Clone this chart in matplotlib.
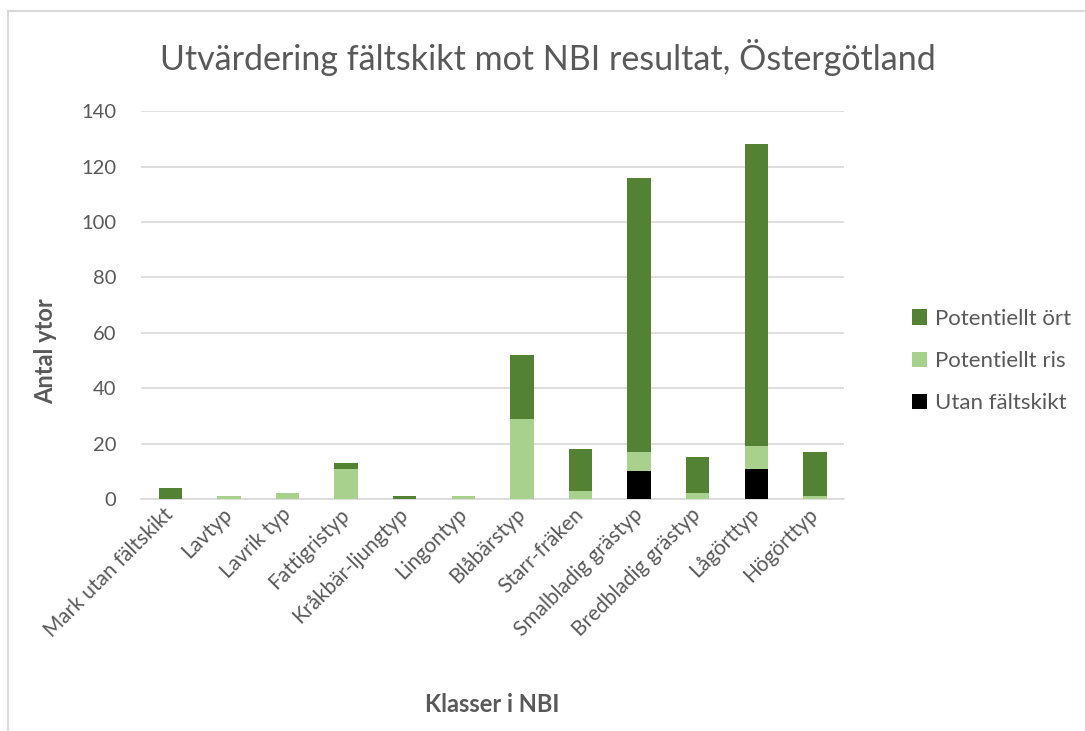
import numpy as np
import matplotlib.pyplot as plt
from matplotlib.patches import Rectangle

# Data
classes = ['Mark utan fältskikt', 'Lavtyp', 'Lavrik typ', 'Fattigristyp',
           'Kråkbär-ljungtyp', 'Lingontyp', 'Blåbärstyp', 'Starr-fräken',
           'Smalbladig grästyp', 'Bredbladig grästyp', 'Lågörttyp', 'Högörttyp']
utan_faltskikt = [0, 0, 0, 0, 0, 0, 0, 0, 10, 0, 11, 0]
potentiellt_ris = [0, 1, 2, 11, 0, 1, 29, 3, 7, 2, 8, 1]
potentiellt_ort = [4, 0, 0, 2, 1, 0, 23, 15, 99, 13, 109, 16]

plt.rcParams['font.family'] = ['Lato', 'DejaVu Sans']
text_col = '#595959'

fig = plt.figure(figsize=(10.85, 7.31), dpi=100)
ax = fig.add_axes([0.130, 0.3174, 0.648, 0.5306])

x = np.arange(len(classes))
w = 0.4
utan = np.array(utan_faltskikt)
ris = np.array(potentiellt_ris)
ort = np.array(potentiellt_ort)

b1 = ax.bar(x, utan, w, color='#000000', label='Utan fältskikt', zorder=3)
b2 = ax.bar(x, ris, w, bottom=utan, color='#A9D18E', label='Potentiellt ris', zorder=3)
b3 = ax.bar(x, ort, w, bottom=utan + ris, color='#548235', label='Potentiellt ört', zorder=3)

ax.set_xlim(-0.5, len(classes) - 0.5)
ax.set_ylim(0, 140)
ax.set_yticks(range(0, 141, 20))
ax.grid(axis='y', color='#D9D9D9', linewidth=1.2, zorder=0)
for s in ['top', 'right', 'left']:
    ax.spines[s].set_visible(False)
ax.spines['bottom'].set_color('#D9D9D9')
ax.spines['bottom'].set_linewidth(1.2)
ax.tick_params(axis='y', length=0, labelsize=14.5, colors=text_col, pad=18)
ax.set_xticks(x)
ax.set_xticklabels(classes, rotation=45, ha='right', va='center', rotation_mode='anchor')
ax.tick_params(axis='x', length=0, labelsize=15, colors=text_col, pad=9)

ax.set_ylabel('Antal ytor', fontsize=17, fontweight='bold', color=text_col)
ax.yaxis.set_label_coords(-0.12, 0.38)
ax.set_xlabel('Klasser i NBI', fontsize=17, fontweight='bold', color=text_col)
ax.xaxis.set_label_coords(0.5, -0.5)

fig.text(0.505, 0.922, 'Utvärdering fältskikt mot NBI resultat, Östergötland',
         ha='center', va='center', fontsize=24.5, color=text_col)

fig.legend([b3, b2, b1], ['Potentiellt ört', 'Potentiellt ris', 'Utan fältskikt'],
           loc='center left', bbox_to_anchor=(0.826, 0.506), frameon=False,
           fontsize=16, labelcolor=text_col, handlelength=0.68, handleheight=0.68,
           handletextpad=0.35, labelspacing=1.0, borderpad=0.2)

fig.patches.append(Rectangle((8 / 1085, -0.1), 1.2, (731 - 11) / 731 + 0.1,
                             transform=fig.transFigure, fill=False,
                             edgecolor='#D9D9D9', linewidth=1.5))

fig.savefig('out.png', dpi=100)
